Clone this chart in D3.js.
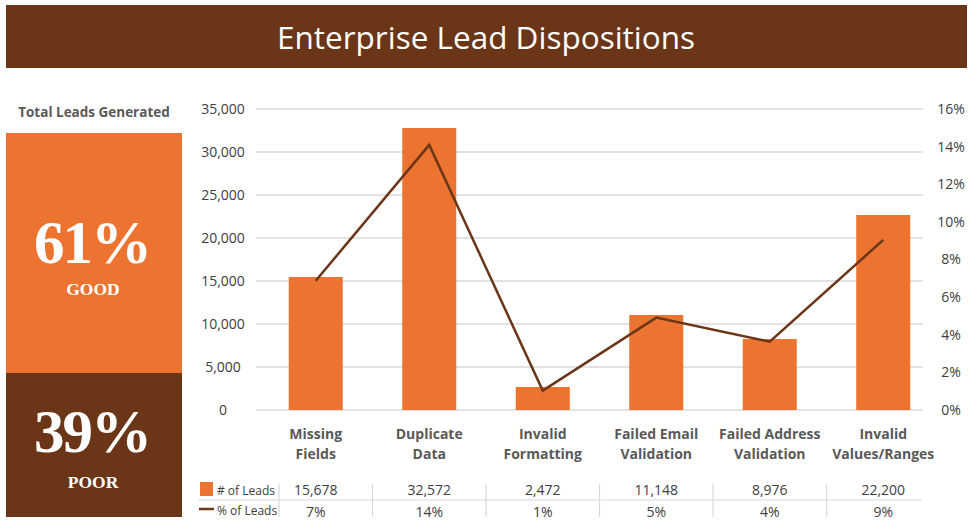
<!DOCTYPE html>
<html>
<head>
<meta charset="utf-8">
<script src="https://cdn.jsdelivr.net/npm/d3@7"></script>
<style>
  html, body { margin: 0; padding: 0; background: #fff; }
  svg { display: block; }
</style>
</head>
<body>
<svg id="chart" width="973" height="523"></svg>
<script>
// ---- Data ----
const title = "Enterprise Lead Dispositions";
const categories = [
  ["Missing", "Fields"],
  ["Duplicate", "Data"],
  ["Invalid", "Formatting"],
  ["Failed Email", "Validation"],
  ["Failed Address", "Validation"],
  ["Invalid", "Values/Ranges"]
];
// bar heights as drawn in the picture
const leadsPlotted = [15465, 32790, 2674, 11047, 8256, 22674];
// line points as drawn in the picture (%)
const pctPlotted = [6.87, 14.09, 1.03, 4.91, 3.63, 9.04];
// data-table labels
const leadsLabels = ["15,678", "32,572", "2,472", "11,148", "8,976", "22,200"];
const pctLabels = ["7%", "14%", "1%", "5%", "4%", "9%"];
const leftTicks = [0, 5000, 10000, 15000, 20000, 25000, 30000, 35000];
const rightTicks = [0, 2, 4, 6, 8, 10, 12, 14, 16];
const seriesNames = ["# of Leads", "% of Leads"];
const panelTitle = "Total Leads Generated";
const goodPct = "61%", goodLabel = "GOOD";
const poorPct = "39%", poorLabel = "POOR";

// ---- Styles ----
const ORANGE = "#ED7430";
const BROWN = "#6B3518";
const GRID = "#D9D9D9";
const AXIS_TEXT = "#404040";
const CAT_TEXT = "#595959";
const SANS = "'Open Sans', sans-serif";
const SERIF = "'Liberation Serif', 'DejaVu Serif', serif";

const svg = d3.select("#chart");
svg.append("defs").append("clipPath").attr("id", "clip")
  .append("rect").attr("x", 0).attr("y", 0).attr("width", 973).attr("height", 517);
const root = svg.append("g").attr("clip-path", "url(#clip)");

// ---- Title bar ----
root.append("rect").attr("x", 6).attr("y", 5).attr("width", 961).attr("height", 63).attr("fill", BROWN);
root.append("text").attr("x", 486).attr("y", 48.5).attr("text-anchor", "middle")
  .attr("font-family", SANS).attr("font-size", 31.5).attr("fill", "#fff").text(title);

// ---- Left panel ----
root.append("text").attr("x", 94).attr("y", 117).attr("text-anchor", "middle")
  .attr("font-family", SANS).attr("font-weight", "bold").attr("font-size", 13.5)
  .attr("fill", CAT_TEXT).text(panelTitle);
root.append("rect").attr("x", 6).attr("y", 133).attr("width", 176).attr("height", 240).attr("fill", ORANGE);
root.append("rect").attr("x", 6).attr("y", 373).attr("width", 176).attr("height", 150).attr("fill", BROWN);
const bigText = (y, t) => root.append("text").attr("x", 92).attr("y", y).attr("text-anchor", "middle")
  .attr("font-family", SERIF).attr("font-weight", "bold").attr("font-size", 61)
  .attr("letter-spacing", -2).attr("fill", "#fff").text(t);
const smallText = (y, t) => root.append("text").attr("x", 93).attr("y", y).attr("text-anchor", "middle")
  .attr("font-family", SERIF).attr("font-weight", "bold").attr("font-size", 17.5).attr("fill", "#fff").text(t);
bigText(263, goodPct);
smallText(295, goodLabel);
bigText(452, poorPct);
smallText(487.5, poorLabel);

// ---- Scales ----
const y = d3.scaleLinear().domain([0, 35000]).range([410, 109]);
const y2 = d3.scaleLinear().domain([0, 16]).range([410, 109]);
const x = d3.scaleBand().domain(d3.range(categories.length)).range([259, 940])
  .paddingInner(0.524).paddingOuter(0.262);
const step = x.step();
const cx = i => x(i) + x.bandwidth() / 2;

// ---- Grid ----
root.append("g").selectAll("line").data(leftTicks).join("line")
  .attr("x1", 256).attr("x2", 923)
  .attr("y1", d => y(d)).attr("y2", d => y(d))
  .attr("stroke", GRID).attr("stroke-width", 1.5);

// ---- Axes labels ----
const fmt = d3.format(",");
root.append("g").selectAll("text").data(leftTicks).join("text")
  .attr("x", 223).attr("y", d => y(d)).attr("dy", "0.35em").attr("text-anchor", "middle")
  .attr("font-family", SANS).attr("font-size", 14).attr("fill", AXIS_TEXT)
  .text(d => fmt(d));
root.append("g").selectAll("text").data(rightTicks).join("text")
  .attr("x", 951).attr("y", d => y2(d)).attr("dy", "0.35em").attr("text-anchor", "middle")
  .attr("font-family", SANS).attr("font-size", 14).attr("fill", AXIS_TEXT)
  .text(d => d + "%");

// ---- Bars ----
root.append("g").selectAll("rect").data(leadsPlotted).join("rect")
  .attr("x", (d, i) => x(i)).attr("width", x.bandwidth())
  .attr("y", d => y(d)).attr("height", d => y(0) - y(d))
  .attr("fill", ORANGE);

// ---- Line ----
const line = d3.line().x((d, i) => cx(i)).y(d => y2(d));
root.append("path").datum(pctPlotted).attr("d", line)
  .attr("fill", "none").attr("stroke", BROWN).attr("stroke-width", 2.5)
  .attr("stroke-linejoin", "miter");

// ---- Category labels ----
const cat = root.append("g").selectAll("text").data(categories).join("text")
  .attr("text-anchor", "middle").attr("font-family", SANS).attr("font-weight", "bold")
  .attr("font-size", 14).attr("fill", CAT_TEXT);
cat.each(function (d, i) {
  const t = d3.select(this);
  d.forEach((s, k) => t.append("tspan").attr("x", cx(i)).attr("y", 439 + k * 19.5).text(s));
});

// ---- Data table ----
const tbl = root.append("g");
tbl.append("line").attr("x1", 198).attr("x2", 922).attr("y1", 500).attr("y2", 500)
  .attr("stroke", GRID).attr("stroke-width", 1.2);
const seps = [279].concat(d3.range(categories.length - 1).map(i => cx(i) + step / 2));
tbl.selectAll("line.sep").data(seps).join("line").attr("class", "sep")
  .attr("x1", d => d).attr("x2", d => d).attr("y1", 484).attr("y2", 517)
  .attr("stroke", GRID).attr("stroke-width", 1.2);
tbl.append("rect").attr("x", 200).attr("y", 482).attr("width", 13).attr("height", 14).attr("fill", ORANGE);
tbl.append("line").attr("x1", 199).attr("x2", 214).attr("y1", 509).attr("y2", 509)
  .attr("stroke", BROWN).attr("stroke-width", 2.5);
tbl.append("text").attr("x", 217).attr("y", 494.5).attr("font-family", SANS).attr("font-size", 12)
  .attr("fill", AXIS_TEXT).text(seriesNames[0]);
tbl.append("text").attr("x", 217).attr("y", 515).attr("font-family", SANS).attr("font-size", 12)
  .attr("fill", AXIS_TEXT).text(seriesNames[1]);
tbl.append("g").selectAll("text").data(leadsLabels).join("text")
  .attr("x", (d, i) => cx(i)).attr("y", 495).attr("text-anchor", "middle")
  .attr("font-family", SANS).attr("font-size", 14).attr("fill", AXIS_TEXT).text(d => d);
tbl.append("g").selectAll("text").data(pctLabels).join("text")
  .attr("x", (d, i) => cx(i)).attr("y", 516.7).attr("text-anchor", "middle")
  .attr("font-family", SANS).attr("font-size", 14).attr("fill", AXIS_TEXT).text(d => d);
</script>
</body>
</html>
